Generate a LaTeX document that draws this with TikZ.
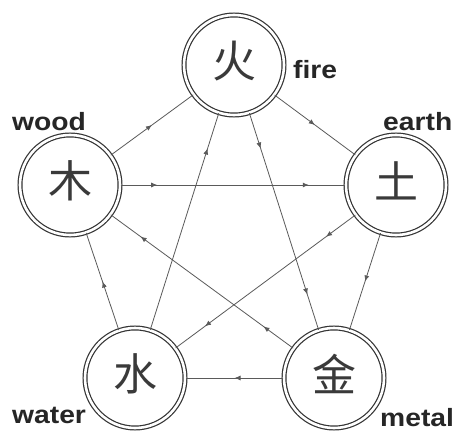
\documentclass[tikz,border=0pt]{standalone}
\usepackage{fontspec}
\usepackage{graphicx}
\setmainfont{Liberation Sans}
\newfontfamily\cjk{Noto Sans CJK SC}
\usetikzlibrary{arrows.meta,decorations.markings}
\definecolor{ringc}{HTML}{333333}
\definecolor{glyphc}{HTML}{3A3A3A}
\definecolor{linec}{HTML}{5A5A5A}
\begin{document}
\begin{tikzpicture}[x=1pt,y=-1pt,
  elem/.style={circle,draw=ringc,double,line width=1.2pt,double distance=2.6pt,minimum size=100pt,inner sep=0pt},
  glyph/.style={inner sep=0pt,text=glyphc,font=\cjk\fontsize{44}{44}\selectfont},
  lbl/.style={anchor=base west,inner sep=0pt,text=black!85,font=\bfseries\fontsize{25}{25}\selectfont},
  conn/.style={draw=linec,line width=0.8pt},
  mid/.style={postaction={decorate,decoration={markings,mark=at position 0.5 with {\arrow{Latex[length=6pt,width=5pt]}}}}},
  two/.style={postaction={decorate,decoration={markings,
      mark=at position 0.163 with {\arrow{Latex[length=6pt,width=5pt]}},
      mark=at position 0.837 with {\arrow{Latex[length=6pt,width=5pt]}}}}},
  late/.style={postaction={decorate,decoration={markings,
      mark=at position 0.837 with {\arrow{Latex[length=6pt,width=5pt]}}}}}
]
\fill[white] (0,0) rectangle (461,431);
\useasboundingbox (0,0) rectangle (461,431);

\node[elem] (fire)  at (234,65)  {};
\node[elem] (wood)  at (70,185)  {};
\node[elem] (earth) at (396,185) {};
\node[elem] (water) at (135,378) {};
\node[elem] (metal) at (334,378) {};

\node[glyph] (firet)  at (234,61)  {火};
\node[glyph] (woodt)  at (70,181)  {木};
\node[glyph] (eartht) at (396,181) {土};
\node[glyph] (watert) at (135,374) {水};
\node[glyph] (metalt) at (334,374) {金};

\node[lbl] (firel)  at (293,78)  {\scalebox{1.13}[1]{fire}};
\node[lbl] (woodl)  at (12,130)  {\scalebox{1.13}[1]{wood}};
\node[lbl] (earthl) at (383,130) {\scalebox{1.13}[1]{earth}};
\node[lbl] (waterl) at (12,423)  {\scalebox{1.13}[1]{water}};
\node[lbl] (metall) at (380,426) {\scalebox{1.13}[1]{metal}};

\draw[conn,mid] (wood) -- (fire);
\draw[conn,mid] (fire) -- (earth);
\draw[conn,mid] (earth) -- (metal);
\draw[conn,mid] (metal) -- (water);
\draw[conn,mid] (water) -- (wood);

\draw[conn,two] (wood) -- (earth);
\draw[conn,two] (earth) -- (water);
\draw[conn,two] (fire) -- (metal);
\draw[conn,two] (metal) -- (wood);
\draw[conn,late] (water) -- (fire);
\end{tikzpicture}
\end{document}
